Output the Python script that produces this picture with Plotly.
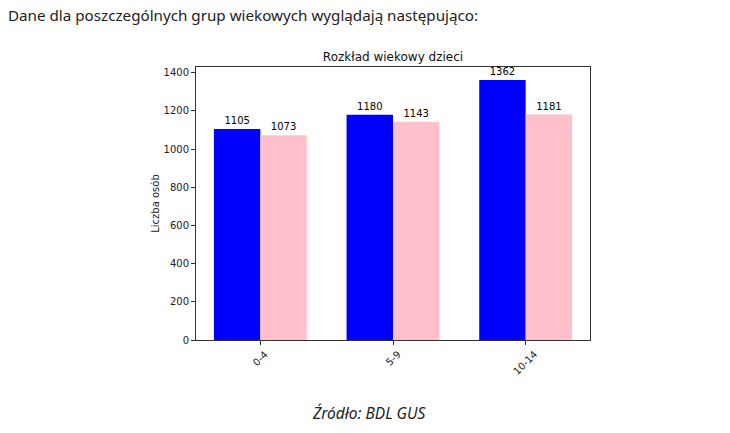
import plotly.graph_objects as go

categories = ["0-4", "5-9", "10-14"]
boys = [1105, 1180, 1362]
girls = [1073, 1143, 1181]
yticks = [0, 200, 400, 600, 800, 1000, 1200, 1400]

xs = list(range(len(categories)))
w = 0.35

L, R, T, B = 196, 140, 67, 93
W, H = 730, 433
pw, ph = W - L - R, H - T - B


def px(x):
    return (x - L) / pw


def py(y):
    return (H - B - y) / ph


fig = go.Figure()
fig.add_trace(go.Bar(x=[x - w / 2 for x in xs], y=boys, width=w, marker=dict(color="#0000ff", line=dict(width=0)),
                     text=[str(v) for v in boys], textposition="outside", cliponaxis=False,
                     textfont=dict(family="DejaVu Sans", size=10, color="black"), showlegend=False))
fig.add_trace(go.Bar(x=[x + w / 2 for x in xs], y=girls, width=w, marker=dict(color="#ffc0cb", line=dict(width=0)),
                     text=[str(v) for v in girls], textposition="outside", cliponaxis=False,
                     textfont=dict(family="DejaVu Sans", size=10, color="black"), showlegend=False))

for x, c in zip(xs, categories):
    fig.add_annotation(x=x, y=py(346), xref="x", yref="paper", text=c, textangle=-45, showarrow=False,
                       xanchor="center", yanchor="top", font=dict(family="DejaVu Sans", size=10, color="#222"))

fig.update_layout(
    width=W, height=H, barmode="overlay",
    margin=dict(l=L, r=R, t=T, b=B),
    paper_bgcolor="white", plot_bgcolor="white",
    font=dict(family="DejaVu Sans", size=10, color="#222"),
    title=dict(text="Rozkład wiekowy dzieci", x=0.5, xref="paper", xanchor="center", y=1 - 57 / H, yanchor="middle",
               font=dict(family="DejaVu Sans", size=12, color="#111")),
    xaxis=dict(range=[-0.485, 2.485], tickvals=xs, ticktext=["" for _ in xs], showline=True, mirror=True,
               linecolor="#333", linewidth=1, ticks="outside", ticklen=4, tickcolor="#333", showgrid=False, zeroline=False),
    yaxis=dict(range=[0, 1430], tickvals=yticks, showline=True, mirror=True, linecolor="#333", linewidth=1,
               ticks="outside", ticklen=4, tickcolor="#333", showgrid=False, zeroline=False,
               title=dict(text="Liczba osób", standoff=2, font=dict(family="DejaVu Sans", size=10, color="#222"))),
)

fig.add_annotation(x=px(6), y=py(15), xref="paper", yref="paper", xanchor="left", yanchor="middle",
                   text="Dane dla poszczególnych grup wiekowych wyglądają następująco:", showarrow=False,
                   font=dict(family="Noto Sans", size=15.2, color="#222"))
fig.add_annotation(x=px(369), y=py(413), xref="paper", yref="paper", xanchor="center", yanchor="middle",
                   text="<i>Źródło: BDL GUS</i>", showarrow=False,
                   font=dict(family="Noto Sans", size=15.5, color="#222"))

fig.write_html("out.html")
